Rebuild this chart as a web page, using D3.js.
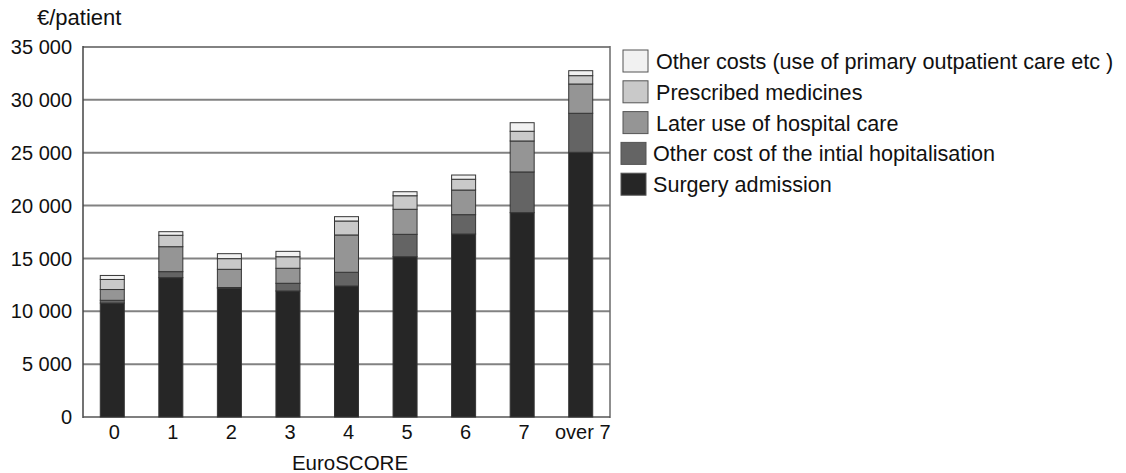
<!DOCTYPE html>
<html>
<head>
<meta charset="utf-8">
<script src="https://cdn.jsdelivr.net/npm/d3@7"></script>
<style>
  html, body { margin: 0; padding: 0; background: #fff; }
  svg { display: block; }
  text { font-family: "Liberation Sans", Arial, sans-serif; fill: #111; }
</style>
</head>
<body>
<div id="chart"></div>
<script>
// EuroSCORE groups on the x axis
const categories = ["0", "1", "2", "3", "4", "5", "6", "7", "over 7"];

// Cost components, euros per patient (stacked bottom to top)
const surgeryAdmission   = [10780, 13180, 12170, 11920, 12390, 15160, 17310, 19330, 25040];
const otherInitialCost   = [260, 570, 80, 730, 1300, 2120, 1830, 3850, 3690];
const laterHospitalCare  = [1020, 2360, 1720, 1420, 3530, 2370, 2330, 2930, 2770];
const prescribedMedicine = [950, 1080, 1010, 1090, 1320, 1280, 1020, 920, 790];
const otherCosts         = [380, 340, 470, 510, 410, 380, 400, 810, 470];

const seriesNames = [
  "Surgery admission",
  "Other cost of the intial hopitalisation",
  "Later use of hospital care",
  "Prescribed medicines",
  "Other costs (use of primary outpatient care etc )"
];
const seriesKeys = ["surgery", "initial", "later", "medicines", "other"];
const seriesColors = ["#262626", "#646464", "#959595", "#c9c9c9", "#f1f1f1"];

const yTicks = [0, 5000, 10000, 15000, 20000, 25000, 30000, 35000];

// Build the row table for the stack layout
const rows = categories.map((c, i) => ({
  cat: c,
  surgery: surgeryAdmission[i],
  initial: otherInitialCost[i],
  later: laterHospitalCare[i],
  medicines: prescribedMedicine[i],
  other: otherCosts[i]
}));

const W = 1126, H = 473;
const plot = { left: 83, right: 610, top: 47, bottom: 417 };

const svg = d3.select("#chart").append("svg")
  .attr("width", W).attr("height", H);

const x = d3.scaleBand()
  .domain(categories)
  .range([plot.left, plot.right])
  .paddingInner(0.59)
  .paddingOuter(0.295);

const y = d3.scaleLinear()
  .domain([0, 35000])
  .range([plot.bottom, plot.top]);

const fmt = v => d3.format(",")(v).replace(/,/g, " ");

// Horizontal gridlines
svg.append("g")
  .selectAll("line")
  .data(yTicks.filter(t => t > 0))
  .join("line")
  .attr("x1", plot.left).attr("x2", plot.right)
  .attr("y1", d => y(d)).attr("y2", d => y(d))
  .attr("stroke", "#828282")
  .attr("stroke-width", 2);

// Plot frame: left axis, right edge and baseline
svg.append("line")
  .attr("x1", plot.left).attr("x2", plot.left)
  .attr("y1", y(35000) - 1).attr("y2", y(0) + 1)
  .attr("stroke", "#444").attr("stroke-width", 1.5);
svg.append("line")
  .attr("x1", plot.right).attr("x2", plot.right)
  .attr("y1", y(35000) - 1).attr("y2", y(0) + 1)
  .attr("stroke", "#6a6a6a").attr("stroke-width", 1.5);
svg.append("line")
  .attr("x1", plot.left).attr("x2", plot.right)
  .attr("y1", y(0)).attr("y2", y(0))
  .attr("stroke", "#555").attr("stroke-width", 1.5);

// Stacked bars
const stack = d3.stack().keys(seriesKeys);
const stacked = stack(rows);

svg.append("g")
  .selectAll("g")
  .data(stacked)
  .join("g")
  .attr("fill", (d, i) => seriesColors[i])
  .selectAll("rect")
  .data(d => d)
  .join("rect")
  .attr("x", d => x(d.data.cat))
  .attr("width", x.bandwidth())
  .attr("y", d => y(d[1]))
  .attr("height", d => y(d[0]) - y(d[1]))
  .attr("stroke", "#353535")
  .attr("stroke-width", 1);

// Y axis tick labels
svg.append("g")
  .selectAll("text")
  .data(yTicks)
  .join("text")
  .attr("x", 72)
  .attr("y", d => y(d))
  .attr("dy", "0.36em")
  .attr("text-anchor", "end")
  .style("font-size", "20px")
  .text(d => fmt(d));

// Unit label
svg.append("text")
  .attr("x", 37).attr("y", 25)
  .style("font-size", "22px")
  .text("€/patient");

// X axis category labels
svg.append("g")
  .selectAll("text")
  .data(categories)
  .join("text")
  .attr("x", d => x(d) + x.bandwidth() / 2 + 2)
  .attr("y", 439)
  .attr("text-anchor", "middle")
  .style("font-size", "20px")
  .text(d => d);

// X axis title
svg.append("text")
  .attr("x", 350).attr("y", 470)
  .attr("text-anchor", "middle")
  .style("font-size", "20.5px")
  .text("EuroSCORE");

// Legend, top entry first
const legendOrder = [4, 3, 2, 1, 0];
const legend = svg.append("g");
legendOrder.forEach((si, row) => {
  const ly = 50 + row * 30.8;
  const shift = row >= 3 ? -2 : 0;
  legend.append("rect")
    .attr("x", 623 + shift).attr("y", ly)
    .attr("width", 25).attr("height", 22)
    .attr("fill", seriesColors[si])
    .attr("stroke", "#555").attr("stroke-width", 1);
  legend.append("text")
    .attr("x", 656 + shift * 1.5).attr("y", ly + 19)
    .style("font-size", "21.6px")
    .text(seriesNames[si]);
});
</script>
</body>
</html>
